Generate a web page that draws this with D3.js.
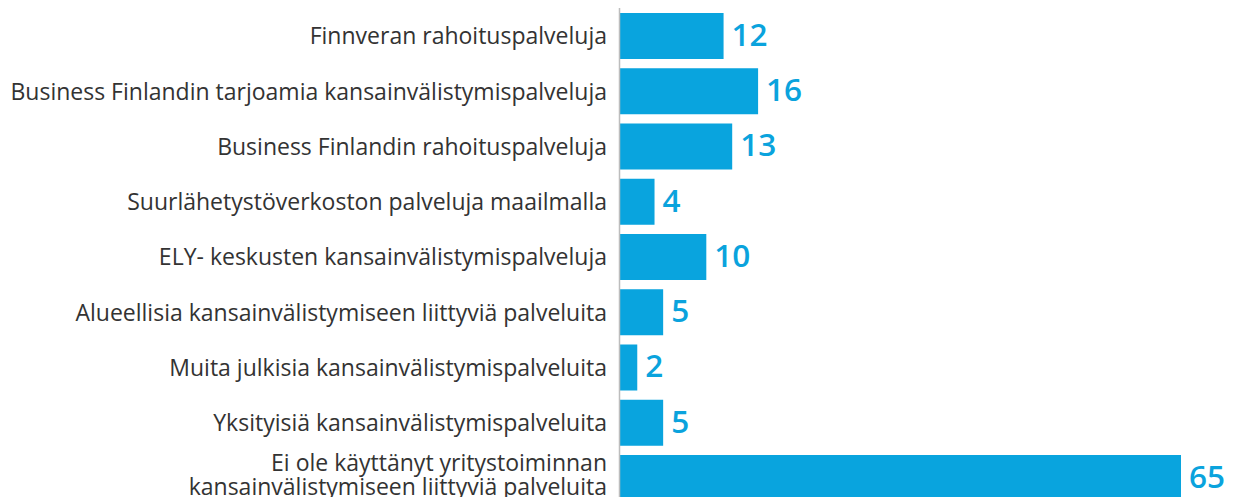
<!DOCTYPE html>
<html>
<head>
<script src="https://d3js.org/d3.v7.min.js"></script>
<style>
  body { margin: 0; background: #fff; }
  .cat { font-family: "Open Sans", sans-serif; font-size: 23px; fill: #333; }
  .val { font-family: "Open Sans", sans-serif; font-size: 31.5px; font-weight: 600; fill: #0aa3dd; }
</style>
</head>
<body>
<script>
const categories = [
  ['Finnveran rahoituspalveluja'],
  ['Business Finlandin tarjoamia kansainvälistymispalveluja'],
  ['Business Finlandin rahoituspalveluja'],
  ['Suurlähetystöverkoston palveluja maailmalla'],
  ['ELY- keskusten kansainvälistymispalveluja'],
  ['Alueellisia kansainvälistymiseen liittyviä palveluita'],
  ['Muita julkisia kansainvälistymispalveluita'],
  ['Yksityisiä kansainvälistymispalveluita'],
  ['Ei ole käyttänyt yritystoiminnan', 'kansainvälistymiseen liittyviä palveluita']
]
const values = [12, 16, 13, 4, 10, 5, 2, 5, 65]

const w = 1245
const h = 497

const svg = d3.select('body').append('svg')
    .attr('width', w)
    .attr('height', h)

const step = 55.25
const pad = 9.25 / step

const x = d3.scaleLinear().domain([0, 65]).range([620, 1181])
const y = d3.scaleBand()
    .domain(d3.range(values.length))
    .range([13 - 9.25 / 2, 13 - 9.25 / 2 + step * values.length])
    .paddingInner(pad)
    .paddingOuter(pad / 2)

svg.selectAll('rect.bar')
    .data(values)
    .enter()
    .append('rect')
    .attr('class', 'bar')
    .attr('x', x(0))
    .attr('y', (d, i) => y(i))
    .attr('width', d => x(d) - x(0))
    .attr('height', y.bandwidth())
    .attr('fill', '#09a4de')

svg.append('line')
    .attr('x1', 619.5).attr('x2', 619.5)
    .attr('y1', 8).attr('y2', h)
    .attr('stroke', '#bdbdbd')
    .attr('stroke-width', 1.5)

svg.selectAll('text.val')
    .data(values)
    .enter()
    .append('text')
    .attr('class', 'val')
    .attr('x', d => x(d) + 8)
    .attr('y', (d, i) => y(i) + y.bandwidth() / 2)
    .attr('dy', '0.31em')
    .text(d => d)

const cat = svg.selectAll('text.cat')
    .data(categories)
    .enter()
    .append('text')
    .attr('class', 'cat')
    .attr('text-anchor', 'end')
    .attr('y', (d, i) => y(i) + y.bandwidth() / 2)

cat.selectAll('tspan')
    .data(d => d.map((t, j) => ({t, j, n: d.length})))
    .enter()
    .append('tspan')
    .attr('x', 607)
    .attr('dy', p => p.n === 1 ? '0.36em' : (p.j === 0 ? '-0.3em' : '1.04em'))
    .text(p => p.t)
</script>
</body>
</html>
